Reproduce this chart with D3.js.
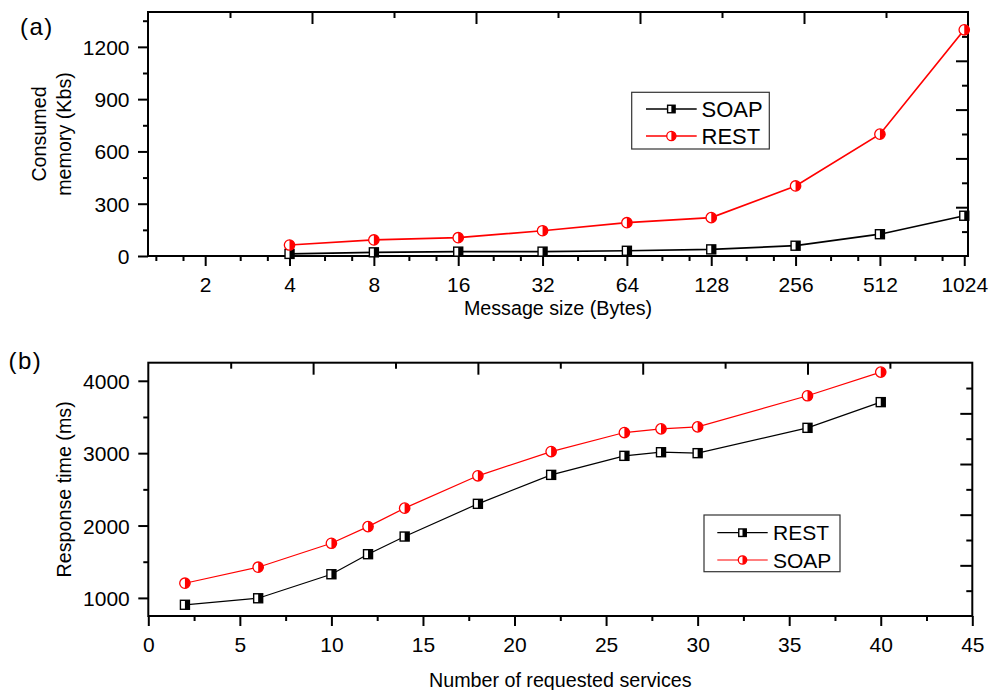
<!DOCTYPE html>
<html>
<head>
<meta charset="utf-8">
<script src="https://cdn.jsdelivr.net/npm/d3@7"></script>
<style>
	body { margin: 0; background: #fff; }
	svg { display: block; font-family: "Liberation Sans", Arial, sans-serif; }
</style>
</head>
<body>
<svg id="chart" width="991" height="690"></svg>
<script>
'use strict';

// panel (a): consumed memory vs message size
var msgSizes = [4, 8, 16, 32, 64, 128, 256, 512, 1024];
var memSoap = [12, 21, 25, 25, 30, 38, 59, 125, 231];
var memRest = [63, 92, 105, 145, 191, 220, 402, 699, 1298];
var sizeTicks = [2, 4, 8, 16, 32, 64, 128, 256, 512, 1024];
var memTicks = [0, 300, 600, 900, 1200];
var memMinor = [150, 450, 750, 1050, 1350];

// panel (b): response time vs number of requested services
var services = [2, 6, 10, 12, 14, 18, 22, 26, 28, 30, 36, 40];
var timeRest = [905, 995, 1327, 1604, 1848, 2300, 2700, 2963, 3013, 3000, 3350, 3705];
var timeSoap = [1203, 1424, 1755, 1985, 2240, 2687, 3022, 3285, 3336, 3363, 3793, 4120];
var servTicks = [0, 5, 10, 15, 20, 25, 30, 35, 40, 45];
var servMinor = [2.5, 7.5, 12.5, 17.5, 22.5, 27.5, 32.5, 37.5, 42.5];
var timeTicks = [1000, 2000, 3000, 4000];
var timeMinor = [1500, 2500, 3500];

var RED = '#ff0000';
var svg = d3.select('#chart');

// log2 minor ticks at n*4/3 and n*5/3
var sizeMinor = [];
[1, 2, 4, 8, 16, 32, 64, 128, 256, 512].forEach(function(n) {
	sizeMinor.push(n*4/3, n*5/3);
});

function styleAxis(g, size) {
	g.select('.domain').remove();
	g.selectAll('line').attr('stroke', '#000').attr('stroke-width', 2);
	g.selectAll('text')
		.attr('fill', '#000')
		.attr('font-size', size)
		.attr('font-family', '"Liberation Sans", Arial, sans-serif');
}

// half filled square: left white, right black
function square(g, x, y, s) {
	g.append('rect')
		.attr('x', x - s/2).attr('y', y - s/2)
		.attr('width', s).attr('height', s)
		.attr('fill', '#fff');
	g.append('rect')
		.attr('x', x).attr('y', y - s/2)
		.attr('width', s/2).attr('height', s)
		.attr('fill', '#000');
	g.append('rect')
		.attr('x', x - s/2).attr('y', y - s/2)
		.attr('width', s).attr('height', s)
		.attr('fill', 'none')
		.attr('stroke', '#000')
		.attr('stroke-width', 1.4);
}

// half filled circle: left white, right red
function circle(g, x, y, r) {
	g.append('circle')
		.attr('cx', x).attr('cy', y).attr('r', r)
		.attr('fill', '#fff');
	g.append('path')
		.attr('d', 'M' + x + ',' + (y - r) + 'A' + r + ',' + r + ' 0 0 1 ' + x + ',' + (y + r) + 'Z')
		.attr('fill', RED);
	g.append('circle')
		.attr('cx', x).attr('cy', y).attr('r', r)
		.attr('fill', 'none')
		.attr('stroke', RED)
		.attr('stroke-width', 1.3);
}

function panel(cfg) {
	var x = cfg.x, y = cfg.y;
	var x0 = x.range()[0], x1 = x.range()[1];
	var y0 = y.range()[0], y1 = y.range()[1];
	var g = svg.append('g');

	// bottom axis, outward ticks
	g.append('g')
		.attr('transform', 'translate(0,' + y0 + ')')
		.call(d3.axisBottom(x).tickValues(cfg.xMinor).tickSize(5).tickFormat(''))
		.call(styleAxis, 21);
	var bx = g.append('g')
		.attr('transform', 'translate(0,' + y0 + ')')
		.call(d3.axisBottom(x).tickValues(cfg.xTicks).tickSize(10).tickFormat(d3.format('d')))
		.call(styleAxis, 21);
	bx.selectAll('text').attr('y', cfg.xLabelDy).attr('dy', null);

	// left axis
	g.append('g')
		.attr('transform', 'translate(' + x0 + ',0)')
		.call(d3.axisLeft(y).tickValues(cfg.yMinor).tickSize(5).tickFormat(''))
		.call(styleAxis, 21);
	g.append('g')
		.attr('transform', 'translate(' + x0 + ',0)')
		.call(d3.axisLeft(y).tickValues(cfg.yTicks).tickSize(10).tickPadding(8.5).tickFormat(d3.format('d')))
		.call(styleAxis, 21)
		.selectAll('text').attr('dy', '0.36em');

	// opposite axes: ten equal divisions, inward ticks, alternating length
	var top = d3.scaleLinear().domain([0, 10]).range([x0, x1]);
	var right = d3.scaleLinear().domain([0, 10]).range([y0, y1]);
	[[[1, 3, 5, 7, 9], 6], [[2, 4, 6, 8], 12]].forEach(function(t) {
		g.append('g')
			.attr('transform', 'translate(0,' + y1 + ')')
			.call(d3.axisTop(top).tickValues(t[0]).tickSize(-t[1]).tickFormat(''))
			.call(styleAxis, 21);
		g.append('g')
			.attr('transform', 'translate(' + x1 + ',0)')
			.call(d3.axisRight(right).tickValues(t[0]).tickSize(-t[1]).tickFormat(''))
			.call(styleAxis, 21);
	});

	// frame
	g.append('rect')
		.attr('x', x0).attr('y', y1)
		.attr('width', x1 - x0).attr('height', y0 - y1)
		.attr('fill', 'none')
		.attr('stroke', '#000')
		.attr('stroke-width', 2);

	// series
	cfg.series.forEach(function(s) {
		var pts = cfg.xs.map(function(d, i) { return [x(d), y(s.values[i])]; });
		g.append('path')
			.attr('d', d3.line()(pts))
			.attr('fill', 'none')
			.attr('stroke', s.color)
			.attr('stroke-width', cfg.lineWidth);
		pts.forEach(function(p) {
			if (s.marker === 'square') square(g, p[0], p[1], cfg.sq);
			else circle(g, p[0], p[1], cfg.cr);
		});
	});

	// legend
	var L = cfg.legend;
	g.append('rect')
		.attr('x', L.x).attr('y', L.y)
		.attr('width', L.w).attr('height', L.h)
		.attr('fill', '#fff')
		.attr('stroke', '#333')
		.attr('stroke-width', 1.2);
	cfg.series.forEach(function(s, i) {
		var ly = L.rows[i];
		g.append('line')
			.attr('x1', L.lx0).attr('x2', L.lx1)
			.attr('y1', ly).attr('y2', ly)
			.attr('stroke', s.color)
			.attr('stroke-width', cfg.lineWidth);
		if (s.marker === 'square') square(g, (L.lx0 + L.lx1)/2, ly, L.sq);
		else circle(g, (L.lx0 + L.lx1)/2, ly, L.cr);
		g.append('text')
			.attr('x', L.tx)
			.attr('y', ly + L.size*0.36)
			.attr('font-size', L.size)
			.text(s.name);
	});

	// titles
	g.append('text')
		.attr('x', (x0 + x1)/2)
		.attr('y', cfg.xTitleY)
		.attr('text-anchor', 'middle')
		.attr('font-size', 19.7)
		.text(cfg.xTitle);
	cfg.yTitle.forEach(function(t, i) {
		g.append('text')
			.attr('transform', 'translate(' + cfg.yTitleX[i] + ',' + (y0 + y1)/2 + ') rotate(-90)')
			.attr('text-anchor', 'middle')
			.attr('font-size', 19.7)
			.text(t);
	});
	g.append('text')
		.attr('x', cfg.tag[0])
		.attr('y', cfg.tag[1])
		.attr('font-size', 24)
		.attr('letter-spacing', 1.5)
		.text(cfg.tag[2]);
}

panel({
	x: d3.scaleLog().base(2).domain([1.25, 1056]).range([148, 968]),
	y: d3.scaleLinear().domain([0, 1400]).range([256, 12]),
	xs: msgSizes,
	xTicks: sizeTicks, xMinor: sizeMinor,
	yTicks: memTicks, yMinor: memMinor,
	xLabelDy: 35.7,
	lineWidth: 1.7, sq: 9, cr: 5.2,
	series: [
		{name: 'SOAP', values: memSoap, color: '#000', marker: 'square'},
		{name: 'REST', values: memRest, color: RED, marker: 'circle'}
	],
	legend: {x: 631.7, y: 92.3, w: 137.6, h: 56.7, lx0: 646, lx1: 696.7, rows: [109, 136],
		tx: 701.5, size: 22, sq: 7.5, cr: 4.6},
	xTitle: 'Message size (Bytes)', xTitleY: 315,
	yTitle: ['Consumed', 'memory (Kbs)'], yTitleX: [46, 71],
	tag: [20, 35, '(a)']
});

panel({
	x: d3.scaleLinear().domain([0, 45]).range([148.3, 972.3]),
	y: d3.scaleLinear().domain([750, 4250]).range([616, 362.7]),
	xs: services,
	xTicks: servTicks, xMinor: servMinor,
	yTicks: timeTicks, yMinor: timeMinor,
	xLabelDy: 35.7,
	lineWidth: 1.2, sq: 9, cr: 5.2,
	series: [
		{name: 'REST', values: timeRest, color: '#000', marker: 'square'},
		{name: 'SOAP', values: timeSoap, color: RED, marker: 'circle'}
	],
	legend: {x: 704, y: 515, w: 136, h: 56.7, lx0: 717.3, lx1: 767.7, rows: [532.7, 560],
		tx: 773, size: 21, sq: 7.5, cr: 4.2},
	xTitle: 'Number of requested services', xTitleY: 687,
	yTitle: ['Response time (ms)'], yTitleX: [71],
	tag: [8.5, 369, '(b)']
});
</script>
</body>
</html>
